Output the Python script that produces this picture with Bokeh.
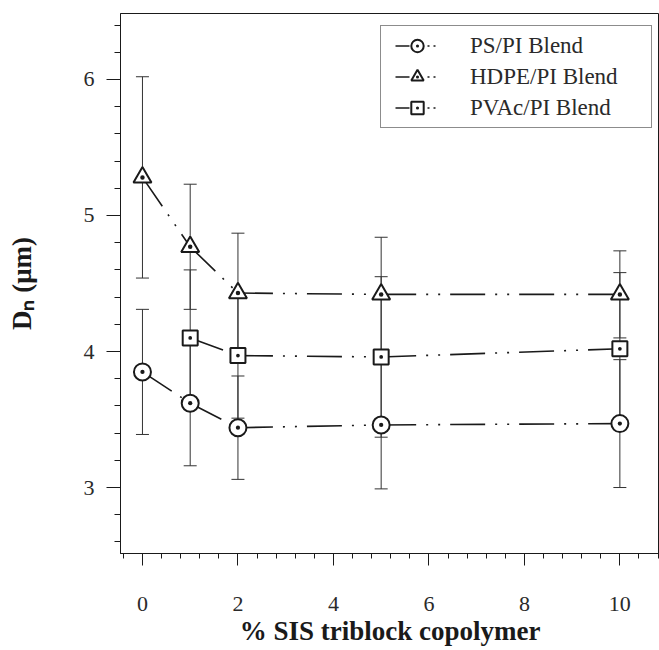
from bokeh.plotting import figure
from bokeh.models import (Range1d, SingleIntervalTicker, Whisker, ColumnDataSource,
                          Legend, LegendItem, TeeHead)
from bokeh.embed import file_html
from bokeh.resources import INLINE

# ---- data ----
x_ps = [0, 1, 2, 5, 10]
ps_mean = [3.85, 3.62, 3.44, 3.46, 3.47]
ps_err = [0.46, 0.46, 0.38, 0.47, 0.47]

x_hdpe = [0, 1, 2, 5, 10]
hdpe_mean = [5.28, 4.77, 4.43, 4.42, 4.42]
hdpe_err = [0.74, 0.46, 0.44, 0.42, 0.32]

x_pvac = [1, 2, 5, 10]
pvac_mean = [4.10, 3.97, 3.96, 4.02]
pvac_err = [0.50, 0.46, 0.59, 0.56]

series_names = ["PS/PI Blend", "HDPE/PI Blend", "PVAc/PI Blend"]
series_markers = ["circle_dot", "triangle_dot", "square_dot"]
x_title = "% SIS triblock copolymer"
y_title = "D\u2099 (\u03bcm)"

SERIF = "Liberation Serif"
INK = "#1a1a1a"
NAN = float("nan")

p = figure(width=659, height=650, output_backend="svg", toolbar_location=None,
           x_range=Range1d(-0.46, 10.83), y_range=Range1d(2.515, 6.485),
           min_border_left=120, min_border_right=0, min_border_top=13,
           min_border_bottom=97)
p.background_fill_color = "white"
p.border_fill_color = "white"
p.outline_line_color = INK
p.outline_line_width = 1
p.xgrid.visible = False
p.ygrid.visible = False

p.xaxis.ticker = SingleIntervalTicker(interval=2, num_minor_ticks=5)
p.yaxis.ticker = SingleIntervalTicker(interval=1, num_minor_ticks=5)
for ax in (p.xaxis[0], p.yaxis[0]):
    ax.axis_line_color = INK
    ax.major_tick_line_color = INK
    ax.minor_tick_line_color = INK
    ax.major_tick_in = 0
    ax.minor_tick_in = 0
    ax.major_label_text_font = SERIF
    ax.major_label_text_font_size = "22px"
    ax.major_label_text_color = "#2a2a2a"
    ax.axis_label_text_font = SERIF
    ax.axis_label_text_font_style = "bold"
    ax.axis_label_text_color = INK

p.xaxis.major_tick_out = 12
p.xaxis.minor_tick_out = 5
p.xaxis.major_label_standoff = 31
p.xaxis.axis_label = x_title
p.xaxis.axis_label_text_font_size = "27px"
p.xaxis.axis_label_standoff = 2

p.yaxis.major_tick_out = 14
p.yaxis.minor_tick_out = 6
p.yaxis.major_label_standoff = 12
p.yaxis.axis_label = y_title
p.yaxis.axis_label_text_font_size = "27px"
p.yaxis.axis_label_standoff = 44

DASH = "35 10 2 10 2 10"
LEGEND_DASH = "0 10 14 18 2 4 2 200"

items = []
for name, marker, xs, ms, es in zip(series_names, series_markers,
                                    [x_ps, x_hdpe, x_pvac],
                                    [ps_mean, hdpe_mean, pvac_mean],
                                    [ps_err, hdpe_err, pvac_err]):
    src = ColumnDataSource(dict(
        x=xs, y=ms,
        upper=[m + e for m, e in zip(ms, es)],
        lower=[m - e for m, e in zip(ms, es)]))
    w = Whisker(base="x", upper="upper", lower="lower", source=src,
                dimension="height", line_color="#333333", line_width=1,
                upper_head=TeeHead(size=13, line_color="#333333", line_width=1),
                lower_head=TeeHead(size=13, line_color="#333333", line_width=1))
    p.add_layout(w)
    seg = ColumnDataSource(dict(x0=xs[:-1], y0=ms[:-1], x1=xs[1:], y1=ms[1:]))
    p.segment(x0="x0", y0="y0", x1="x1", y1="y1", source=seg,
              line_color=INK, line_width=1.6, line_dash=DASH)
    size = {"circle_dot": 17, "triangle_dot": 18, "square_dot": 15}[marker]
    mr = p.scatter(x="x", y="y", source=src, marker=marker, size=size,
                   fill_color="white", line_color=INK, line_width=2)
    lr = p.line(x=[NAN, NAN], y=[NAN, NAN], line_color=INK, line_width=1.6,
                line_dash=LEGEND_DASH)
    items.append(LegendItem(label=name, renderers=[lr, mr]))

legend = Legend(items=items, location=(260, 425), orientation="vertical",
                border_line_color=INK, border_line_width=1,
                background_fill_color="white", background_fill_alpha=1,
                padding=4, spacing=0, margin=0,
                glyph_width=64, glyph_height=31, label_standoff=21,
                label_width=177, label_height=23,
                label_text_font=SERIF, label_text_font_size="23px",
                label_text_color="#2a2a2a", label_text_baseline="middle")
p.add_layout(legend)

open("out.html", "w").write(file_html(p, INLINE))
